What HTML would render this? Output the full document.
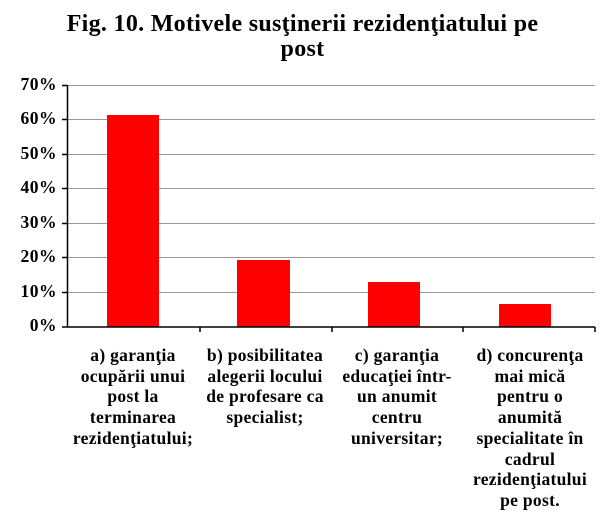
<!DOCTYPE html>
<html><head><meta charset="utf-8"><style>
body{margin:0;width:605px;height:529px;background:#fff;overflow:hidden;font-family:"Liberation Serif",serif;font-weight:bold}
.t{position:absolute;left:0;width:605px;text-align:center;font-size:24px;line-height:25px;top:12px;letter-spacing:0.3px}
.l{position:absolute;top:345px;width:140px;text-align:center;font-size:17.5px;line-height:20.7px;white-space:nowrap;letter-spacing:0.3px}
.y{position:absolute;left:0;width:57px;text-align:right;font-size:17.5px;letter-spacing:0.5px}
</style></head><body>
<div class="t">Fig. 10. Motivele susţinerii rezidenţiatului pe<br>post</div>
<svg width="605" height="529" style="position:absolute;left:0;top:0">
<g stroke="#999" stroke-width="1">
<line x1="67" x2="595" y1="85.5" y2="85.5"/><line x1="67" x2="595" y1="119.5" y2="119.5"/>
<line x1="67" x2="595" y1="154.5" y2="154.5"/><line x1="67" x2="595" y1="188.5" y2="188.5"/>
<line x1="67" x2="595" y1="223.5" y2="223.5"/><line x1="67" x2="595" y1="257.5" y2="257.5"/>
<line x1="67" x2="595" y1="292.5" y2="292.5"/></g>
<g fill="#f00"><rect x="107" y="115" width="52" height="212"/><rect x="237" y="260" width="53" height="67"/>
<rect x="368" y="282" width="52" height="45"/><rect x="499" y="304" width="52" height="23"/></g>
<g stroke="#000" stroke-width="1.5"><line x1="67.5" y1="85" x2="67.5" y2="327"/><line x1="62" y1="327" x2="595" y2="327"/>
<line x1="62" x2="67" y1="85.5" y2="85.5"/><line x1="62" x2="67" y1="119.5" y2="119.5"/><line x1="62" x2="67" y1="154.5" y2="154.5"/>
<line x1="62" x2="67" y1="188.5" y2="188.5"/><line x1="62" x2="67" y1="223.5" y2="223.5"/><line x1="62" x2="67" y1="257.5" y2="257.5"/><line x1="62" x2="67" y1="292.5" y2="292.5"/>
<line x1="200" x2="200" y1="327" y2="332"/><line x1="332" x2="332" y1="327" y2="332"/><line x1="463" x2="463" y1="327" y2="332"/><line x1="595" x2="595" y1="327" y2="332"/></g>
</svg>
<div class="y" style="top:74px">70%</div><div class="y" style="top:108px">60%</div><div class="y" style="top:143px">50%</div>
<div class="y" style="top:177px">40%</div><div class="y" style="top:212px">30%</div><div class="y" style="top:246px">20%</div>
<div class="y" style="top:281px">10%</div><div class="y" style="top:315px">0%</div>
<div class="l" style="left:63px">a) garanţia<br>ocupării unui<br>post la<br>terminarea<br>rezidenţiatului;</div>
<div class="l" style="left:195px">b) posibilitatea<br>alegerii locului<br>de profesare ca<br>specialist;</div>
<div class="l" style="left:327px">c) garanţia<br>educaţiei într-<br>un anumit<br>centru<br>universitar;</div>
<div class="l" style="left:460px">d) concurenţa<br>mai mică<br>pentru o<br>anumită<br>specialitate în<br>cadrul<br>rezidenţiatului<br>pe post.</div>
</body></html>
